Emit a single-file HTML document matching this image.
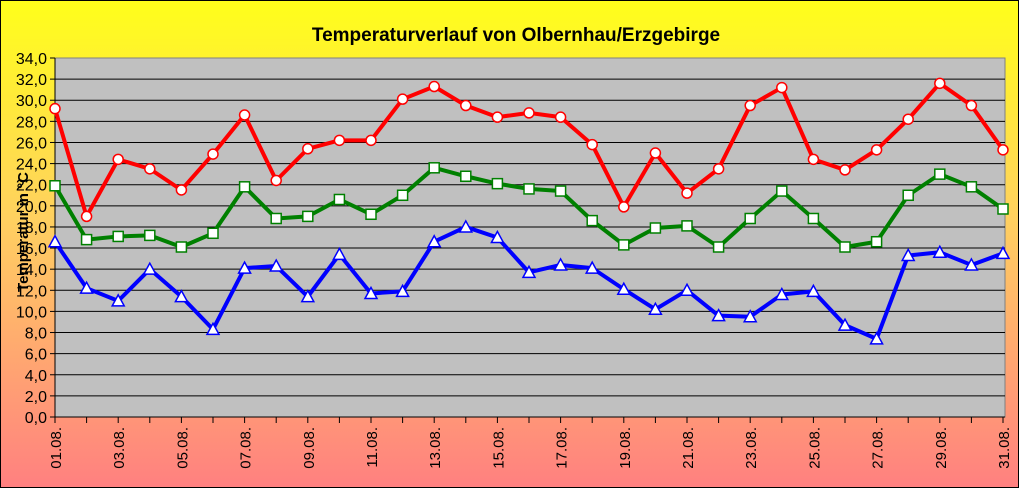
<!DOCTYPE html>
<html><head><meta charset="utf-8"><style>
html,body{margin:0;padding:0}
body{width:1019px;height:488px;overflow:hidden;font-family:"Liberation Sans",sans-serif}
</style></head><body>
<svg id="chart" width="1019" height="488" xmlns="http://www.w3.org/2000/svg" font-family="Liberation Sans, sans-serif">
<defs><linearGradient id="bg" x1="0" y1="0" x2="0" y2="1">
<stop offset="0" stop-color="#ffff1a"/><stop offset="0.45" stop-color="#ffd060"/><stop offset="1" stop-color="#ff8080"/></linearGradient></defs>
<rect x="0.5" y="0.5" width="1018" height="487" fill="url(#bg)" stroke="#000"/>
<text x="516" y="41" text-anchor="middle" font-size="19" font-weight="bold">Temperaturverlauf von Olbernhau/Erzgebirge</text>
<rect x="55" y="58" width="950" height="359" fill="#c0c0c0" stroke="#808080"/>
<g id="grid"></g><g id="axes"></g><g id="series"></g>
<text transform="translate(28,232) rotate(-90)" text-anchor="middle" font-size="15" font-weight="bold">Temperatur in °C</text>
</svg>
<script>
const days=["01.08.","02.08.","03.08.","04.08.","05.08.","06.08.","07.08.","08.08.","09.08.","10.08.","11.08.","12.08.","13.08.","14.08.","15.08.","16.08.","17.08.","18.08.","19.08.","20.08.","21.08.","22.08.","23.08.","24.08.","25.08.","26.08.","27.08.","28.08.","29.08.","30.08.","31.08."];
const tMax=[29.2,19.0,24.4,23.5,21.5,24.9,28.6,22.4,25.4,26.2,26.2,30.1,31.3,29.5,28.4,28.8,28.4,25.8,19.9,25.0,21.2,23.5,29.5,31.2,24.4,23.4,25.3,28.2,31.6,29.5,25.3];
const tAvg=[21.9,16.8,17.1,17.2,16.1,17.4,21.8,18.8,19.0,20.6,19.2,21.0,23.6,22.8,22.1,21.6,21.4,18.6,16.3,17.9,18.1,16.1,18.8,21.4,18.8,16.1,16.6,21.0,23.0,21.8,19.7];
const tMin=[16.6,12.2,11.0,14.0,11.4,8.3,14.1,14.3,11.4,15.4,11.7,11.9,16.6,18.0,17.0,13.7,14.4,14.1,12.1,10.2,12.0,9.6,9.5,11.6,11.9,8.7,7.4,15.3,15.6,14.4,15.5];
const yTicks=[0,2,4,6,8,10,12,14,16,18,20,22,24,26,28,30,32,34];
const NS="http://www.w3.org/2000/svg";
const X0=55,X1=1003,Y0=417,Y1=58,YMAX=34;
const xs=i=>X0+(X1-X0)*i/(days.length-1);
const ys=v=>Y0-(Y0-Y1)*v/YMAX;
function mk(t,a,p){const e=document.createElementNS(NS,t);for(const k in a)e.setAttribute(k,a[k]);p.appendChild(e);return e;}
const grid=document.getElementById('grid'),axes=document.getElementById('axes'),ser=document.getElementById('series');
yTicks.forEach(v=>{
 const y=ys(v);
 if(v>0&&v<YMAX){const l=mk('line',{x1:X0,x2:1005,y1:y,y2:y,stroke:'#000','stroke-width':1},grid);
 
 }
 const tk=mk('line',{x1:X0-5,x2:X0,y1:y,y2:y,stroke:'#000'},axes);
 
 
 const t=mk('text',{x:X0-8,y:y+6,'text-anchor':'end','font-size':16},axes);
 t.textContent=v.toFixed(1).replace('.',',');
 
 
});
mk('line',{x1:X0,x2:X0,y1:Y1,y2:Y0,stroke:'#000'},axes);
mk('line',{x1:X0,x2:1005,y1:Y0,y2:Y0,stroke:'#000'},axes);
days.forEach((d,i)=>{
 const x=xs(i);
 const tk=mk('line',{x1:x,x2:x,y1:Y0,y2:Y0+6,stroke:'#000'},axes);
 
 
 if(i%2===0){const t=mk('text',{transform:`translate(${x+6},${Y0+10}) rotate(-90)`,'text-anchor':'end','font-size':15},axes);
 t.textContent=d;
 
 }
});
function series(vals,color,marker,name){
 const g=mk('g',{},ser);
 
 
 mk('polyline',{points:vals.map((v,i)=>xs(i)+','+ys(v)).join(' '),fill:'none',stroke:color,'stroke-width':4,'stroke-linejoin':'round'},g);
 vals.forEach((v,i)=>{const x=xs(i),y=ys(v);let m;
  if(marker==='c')m=mk('circle',{cx:x,cy:y,r:5,fill:'#fff',stroke:color,'stroke-width':1.5},g);
  else if(marker==='s')m=mk('rect',{x:x-5,y:y-5,width:10,height:10,fill:'#fff',stroke:color,'stroke-width':1.5},g);
  else m=mk('polygon',{points:`${x},${y-6} ${x+6},${y+5} ${x-6},${y+5}`,fill:'#fff',stroke:color,'stroke-width':1.5},g);
  
  
 });
}
series(tMin,'#0000ff','t','min-series');
series(tAvg,'#008000','s','avg-series');
series(tMax,'#ff0000','c','max-series');
</script>
</body></html>
